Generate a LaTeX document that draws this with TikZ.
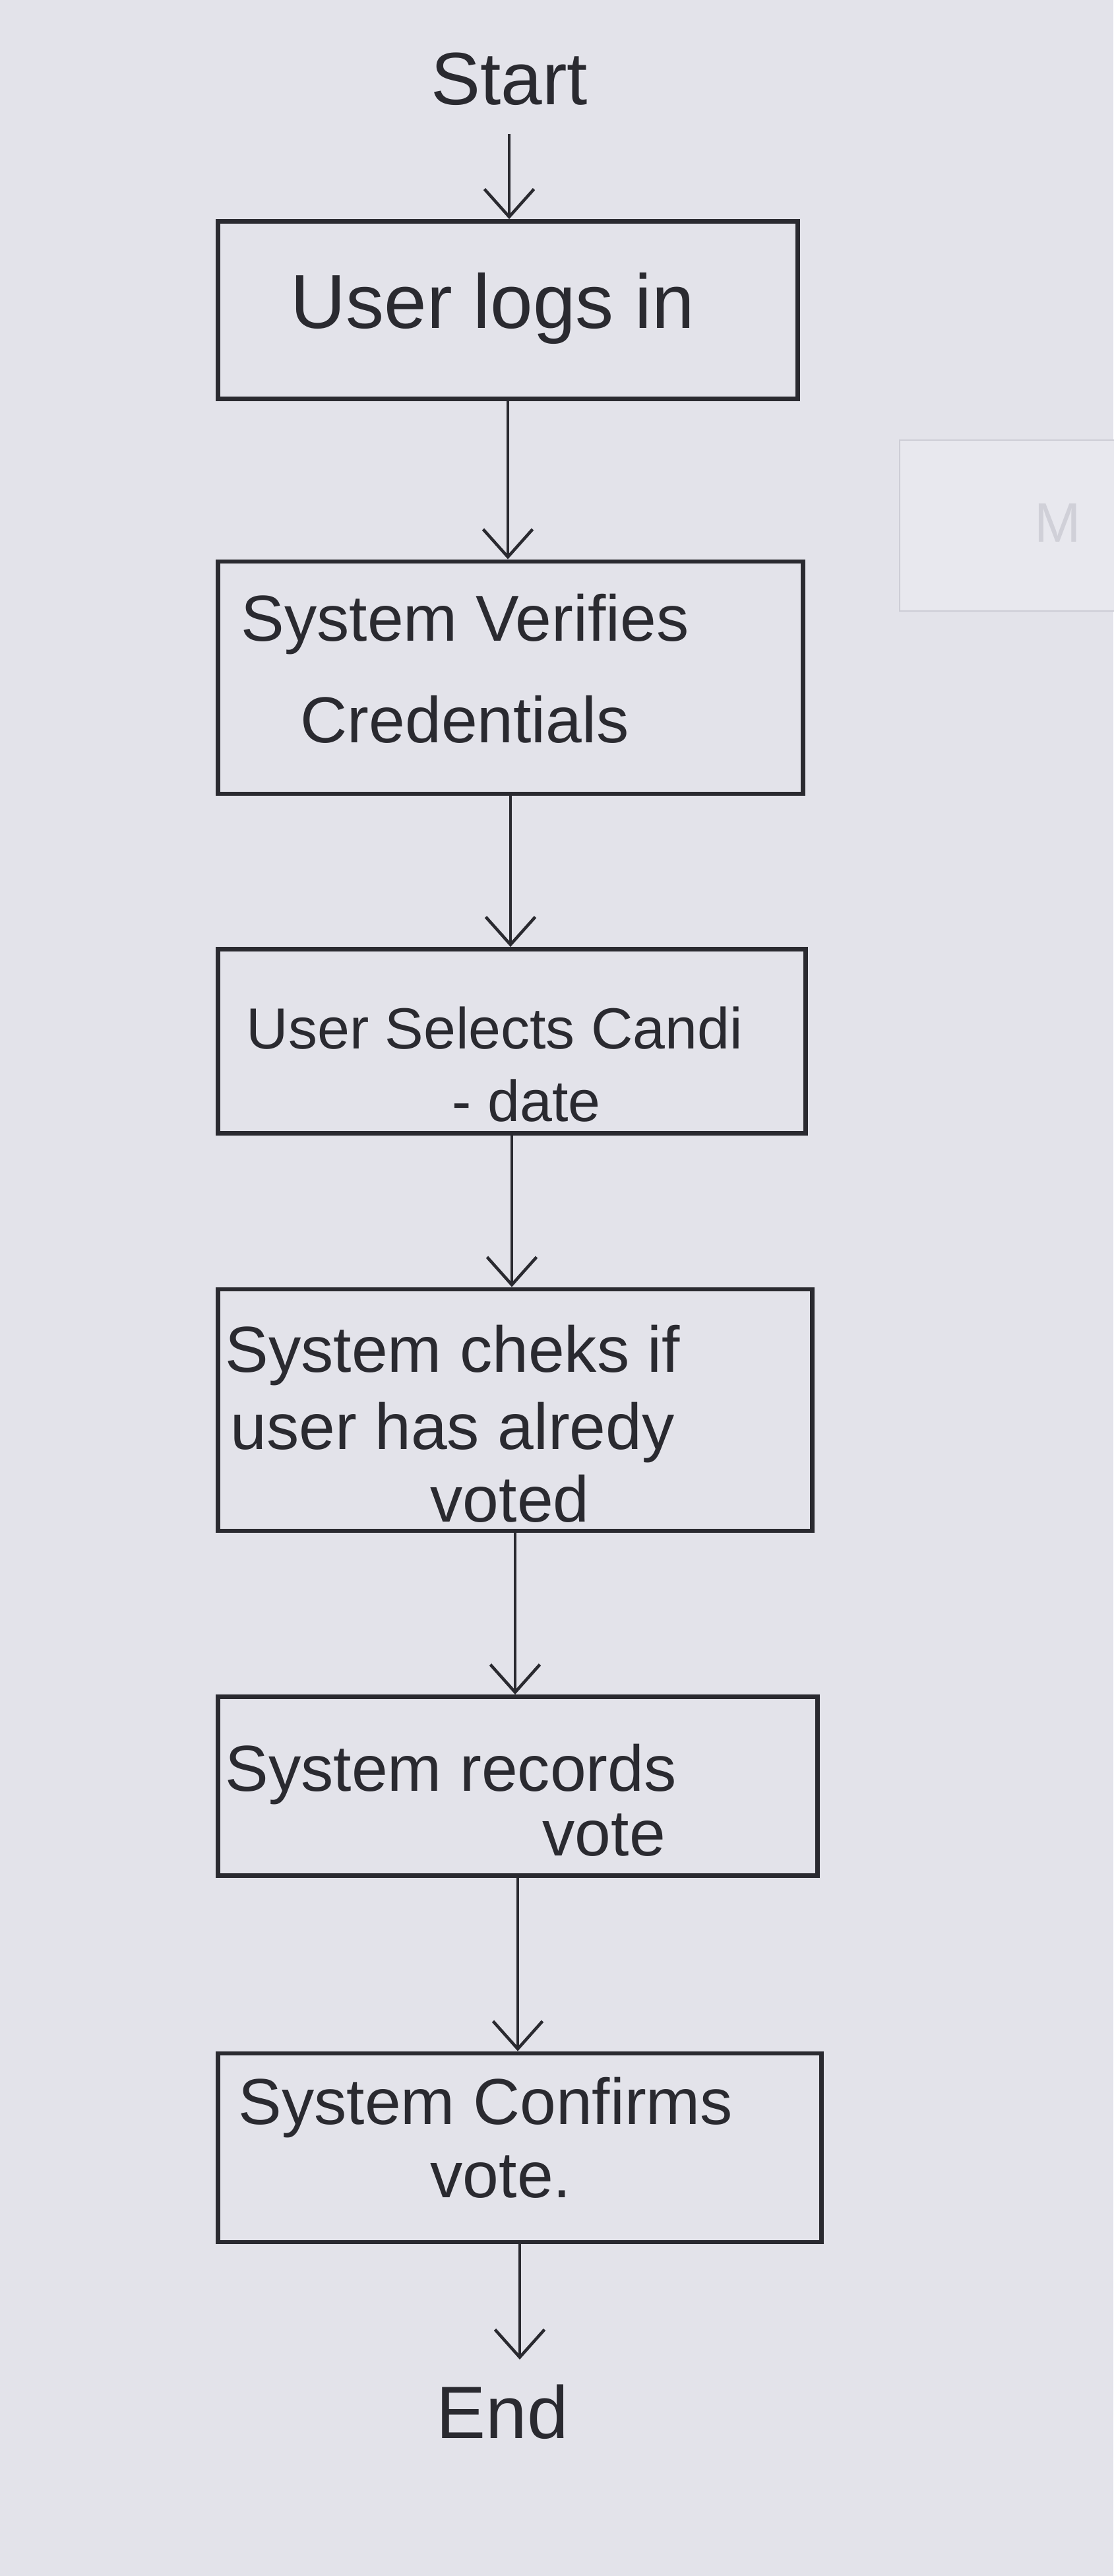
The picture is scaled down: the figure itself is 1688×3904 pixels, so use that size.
\documentclass[tikz,border=0pt]{standalone}
\usepackage{fontspec}
\setmainfont{Liberation Sans}
\usetikzlibrary{arrows.meta}
\definecolor{paper}{HTML}{E3E3EA}
\definecolor{ink}{HTML}{2A2A30}
\definecolor{faintline}{HTML}{CDCDD6}
\definecolor{faintfill}{HTML}{E8E8EE}
\definecolor{fainttext}{HTML}{D0D0D8}
\begin{document}
\begin{tikzpicture}[x=0.01cm,y=-0.01cm,
  box/.style={draw=ink, line width=1.9pt, rectangle, inner sep=0pt},
  txt/.style={text=ink, inner sep=0pt, anchor=west, font=\fontsize{28}{30}\selectfont},
  term/.style={text=ink, inner sep=2pt, font=\fontsize{32}{34}\selectfont},
  flow/.style={draw=ink, line width=1.3pt, -{Straight Barb[length=0.42cm, width=0.75cm, line width=1.3pt]}}
]
\fill[paper] (0,0) rectangle (1688,3904);
\useasboundingbox (0,0) rectangle (1688,3904);

% faint show-through rectangle on the right
\draw[faintline, line width=0.7pt, fill=faintfill] (1364,667) rectangle (1700,926);
\node[text=fainttext, font=\fontsize{24}{26}\selectfont, anchor=west, inner sep=0pt] (ghost) at (1568,792) {M};

% terminals
\node[term] (start) at (772,120) {Start};
\node[term] (end) at (762,3655) {End};

% boxes
\node[box, minimum width=8.79cm, minimum height=2.69cm] (b1) at (770,470) {};
\node[box, minimum width=8.86cm, minimum height=3.52cm] (b2) at (774,1027) {};
\node[box, minimum width=8.91cm, minimum height=2.79cm] (b3) at (776,1578) {};
\node[box, minimum width=9.01cm, minimum height=3.66cm] (b4) at (781,2137) {};
\node[box, minimum width=9.09cm, minimum height=2.71cm] (b5) at (785,2707) {};
\node[box, minimum width=9.14cm, minimum height=2.86cm] (b6) at (788,3255) {};

% texts
\node[txt, font=\fontsize{33}{35}\selectfont] (t1) at (440,468) {User logs in};
\node[txt] (t2a) at (365,946) {System Verifies};
\node[txt] (t2b) at (455,1090) {Credentials};
\node[txt, font=\fontsize{25}{27}\selectfont] (t3a) at (373,1558) {User Selects Candi};
\node[txt, font=\fontsize{25}{27}\selectfont] (t3b) at (685,1668) {- date};
\node[txt] (t4a) at (341,2054) {System cheks if};
\node[txt] (t4b) at (349,2171) {user has alredy};
\node[txt] (t4c) at (652,2271) {voted};
\node[txt] (t5a) at (341,2689) {System records};
\node[txt] (t5b) at (822,2781) {vote};
\node[txt] (t6a) at (361,3194) {System Confirms};
\node[txt] (t6b) at (652,3299) {vote.};

% connectors
\draw[flow, shorten <=0.35cm] (start.south) -- (start.south |- b1.north);
\draw[flow] (b1.south) -- (b1.south |- b2.north);
\draw[flow] (b2.south) -- (b2.south |- b3.north);
\draw[flow] (b3.south) -- (b3.south |- b4.north);
\draw[flow] (b4.south) -- (b4.south |- b5.north);
\draw[flow] (b5.south) -- (b5.south |- b6.north);
\draw[flow, shorten >=0.3cm] (b6.south) -- (b6.south |- end.north);
\end{tikzpicture}
\end{document}
